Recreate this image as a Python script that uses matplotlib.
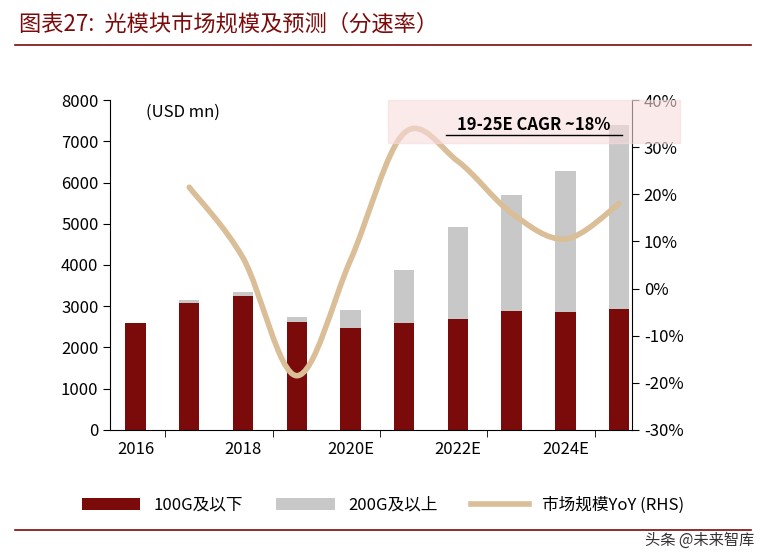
import numpy as np
import matplotlib; matplotlib.use("Agg")
import matplotlib.pyplot as plt
from matplotlib.path import Path
from matplotlib.patches import PathPatch, Rectangle

plt.rcParams["font.family"] = ["Noto Sans CJK JP", "Noto Sans CJK SC", "DejaVu Sans"]

YEARS = ["2016", "2017", "2018", "2019", "2020E", "2021E", "2022E", "2023E", "2024E", "2025E"]
LOW = [2600, 3080, 3250, 2620, 2480, 2600, 2700, 2880, 2870, 2920]
TOTAL = [2600, 3150, 3350, 2730, 2900, 3870, 4920, 5700, 6280, 7400]
YOY = [None, 21.5, 6.5, -18.5, 6.0, 33.0, 27.0, 16.0, 10.5, 18.0]
HIGH = [t - l for t, l in zip(TOTAL, LOW)]

RED = "#7B0A0A"; GREY = "#C8C8C8"; TAN = "#D9BE98"

fig = plt.figure(figsize=(7.66, 5.59), dpi=100)
ax = fig.add_axes([0.144, 0.231, 0.681, 0.590])
x = np.arange(len(YEARS))
ax.bar(x, LOW, 0.38, color=RED, label="100G及以下")
ax.bar(x, HIGH, 0.38, bottom=LOW, color=GREY, label="200G及以上")
ax.set_ylim(0, 8000); ax.set_xlim(-0.47, 9.24)
ax.set_yticks(range(0, 8001, 1000))
ax.set_xticks(x[::2]); ax.set_xticklabels(YEARS[::2])
ax.set_xticks(x[::2] + 0.55, minor=True)
ax.tick_params(axis="x", which="major", length=0, pad=8)
ax.tick_params(axis="x", which="minor", length=5, direction="out")
ax.tick_params(axis="y", length=5, labelsize=12)
ax.tick_params(axis="x", labelsize=12)
for s in ["top", "right"]:
    ax.spines[s].set_visible(False)
ax.text(0.2, 7700, "(USD mn)", fontsize=12, va="center")

ax2 = ax.twinx()
ax2.set_ylim(-30, 40)
ax2.set_yticks(range(-30, 41, 10))
ax2.set_yticklabels([f"{v}%" for v in range(-30, 41, 10)])
ax2.tick_params(length=5, labelsize=12)
for s in ["top", "left", "bottom"]:
    ax2.spines[s].set_visible(False)

# smooth line (Catmull-Rom -> cubic Bezier)
px = x[1:].astype(float); py = np.array(YOY[1:], float)
pts = np.column_stack([px, py])
verts = [pts[0]]; codes = [Path.MOVETO]
for i in range(len(pts) - 1):
    p0 = pts[max(i - 1, 0)]; p1 = pts[i]; p2 = pts[i + 1]; p3 = pts[min(i + 2, len(pts) - 1)]
    verts += [p1 + (p2 - p0) / 6, p2 - (p3 - p1) / 6, p2]
    codes += [Path.CURVE4] * 3
ax2.add_patch(PathPatch(Path(verts, codes), fill=False, color=TAN, lw=4, capstyle="round"))
ax2.plot([], [], color=TAN, lw=4, label="市场规模YoY (RHS)")

fig.add_artist(Rectangle((388 / 766, 1 - 143 / 559), 292 / 766, 43 / 559,
                         transform=fig.transFigure, color="#F8DCDC", alpha=0.6, zorder=5))
fig.text(534 / 766, 1 - 125 / 559, "19-25E CAGR ~18%", ha="center", va="center",
         fontsize=12, fontweight="bold", zorder=6)
fig.add_artist(plt.Line2D([446 / 766, 622 / 766], [1 - 135 / 559] * 2, color="black", lw=1, zorder=6))

h1, l1 = ax.get_legend_handles_labels(); h2, l2 = ax2.get_legend_handles_labels()
fig.legend(h1 + h2, l1 + l2, loc="center", bbox_to_anchor=(0.5, 1 - 505 / 559), ncol=3,
           frameon=False, fontsize=12, handlelength=3.5, columnspacing=2)

fig.text(0.025, 1 - 24 / 559, "图表27:  光模块市场规模及预测（分速率）", fontsize=16,
         color=RED, style="italic", va="center")
fig.add_artist(plt.Line2D([0.02, 0.98], [1 - 45 / 559] * 2, color=RED, lw=1.2))
fig.add_artist(plt.Line2D([0.02, 0.98], [1 - 530 / 559] * 2, color=RED, lw=1.2))
fig.text(0.985, 1 - 540 / 559, "头条 @未来智库", fontsize=11, ha="right", va="center", color="#333333")

fig.savefig("out.png", dpi=100)
